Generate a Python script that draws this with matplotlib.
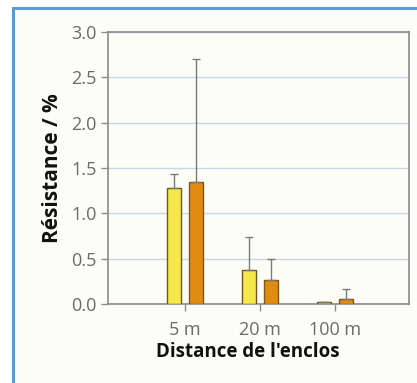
import numpy as np
from matplotlib import pyplot as plt
from matplotlib.patches import Rectangle

# values
categories = ['5 m', '20 m', '100 m']
yellow = [1.28, 0.375, 0.02]
yellow_err = [0.15, 0.36, 0.0]
orange = [1.35, 0.265, 0.06]
orange_err = [1.35, 0.235, 0.10]

plt.rcParams['font.family'] = ['Open Sans', 'DejaVu Sans']

fig = plt.figure(figsize=(4.17, 3.83), dpi=100, facecolor='white')

# blue frame round the panel (cut on right and bottom)
fig.patches.append(Rectangle((13/417, -0.05), 1.1, 1 - 8/383 + 0.05,
                             transform=fig.transFigure, facecolor='#fdfdf8',
                             edgecolor='#5b9bd5', linewidth=2.2, zorder=-5))

ax = fig.add_axes([108/417, 1 - 304/383, 301/417, 272/383])
ax.set_zorder(2)
ax.set_facecolor('#fdfdf8')

pos = np.arange(1, len(categories) + 1)
w = 0.19
off = 0.147
err_kw = dict(ecolor='#7a7a7a', elinewidth=1.0, capsize=3.2, capthick=1.0)
ax.bar(pos - off, yellow, w, color='#f7e84a', edgecolor='#6a5820', linewidth=1.0,
       yerr=[np.zeros(len(yellow)), yellow_err], error_kw=err_kw, zorder=3)
ax.bar(pos + off, orange, w, color='#e08c10', edgecolor='#80561a', linewidth=1.0,
       yerr=[np.zeros(len(orange)), orange_err], error_kw=err_kw, zorder=3)

ax.set_xlim(-0.03, 3.99)
ax.set_ylim(0, 3.0)
ax.set_yticks(np.arange(0, 3.01, 0.5))
ax.set_yticklabels(['%.1f' % v for v in np.arange(0, 3.01, 0.5)])
ax.set_xticks(pos)
ax.set_xticklabels(categories)
ax.yaxis.grid(True, color='#c8d6e8', linewidth=1.0, zorder=0)
ax.set_axisbelow(True)

for s in ax.spines.values():
    s.set_color('#8a8a8a')
    s.set_linewidth(1.2)
ax.tick_params(axis='both', colors='#8a8a8a', labelcolor='#6a6a6a', labelsize=13,
               length=5, width=1.0)
ax.tick_params(axis='y', pad=3)
ax.tick_params(axis='x', pad=7)

ax.set_ylabel('Résistance / %', fontsize=15, fontweight='bold', labelpad=6,
              color='#111111')
ax.set_xlabel("Distance de l'enclos", fontsize=13.5, fontweight='bold',
              color='#111111')
ax.xaxis.set_label_coords(0.465, -0.14)

plt.savefig('out.png', dpi=100, facecolor=fig.get_facecolor())
